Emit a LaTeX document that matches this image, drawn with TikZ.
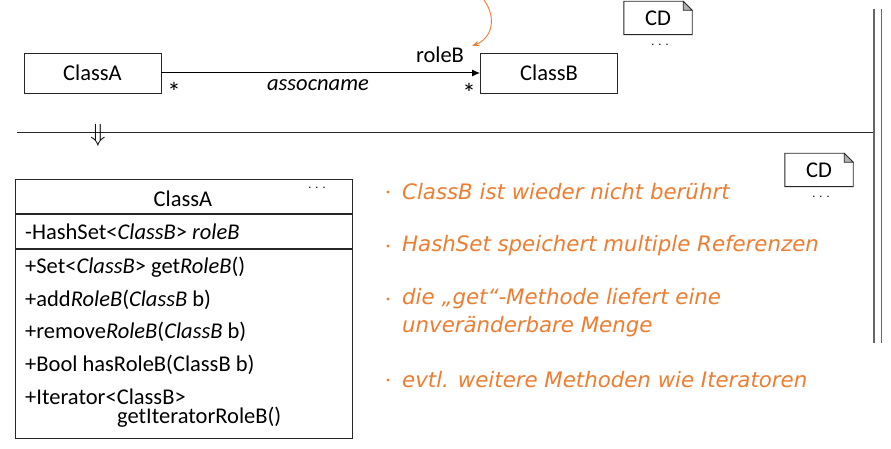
\documentclass[tikz,border=0pt]{standalone}
\usepackage{fontspec}
\setmainfont{Carlito}
\newfontfamily\notefont{DejaVu Sans}
\usetikzlibrary{positioning,arrows.meta,calc}
\definecolor{noteorange}{RGB}{237,125,49}

\begin{document}
\begin{tikzpicture}[x=1pt,y=-1pt,
  cls/.style={draw=black!85,line width=0.9pt,minimum width=137,minimum height=40,font=\fontsize{22.5}{25}\selectfont},
  lbl/.style={inner sep=1pt,font=\fontsize{22.5}{25}\selectfont},
  cdnote/.style={minimum width=68,minimum height=33,inner sep=0pt,font=\fontsize{22.5}{25}\selectfont},
  dotsl/.style={inner sep=0pt,font=\fontsize{12}{12}\selectfont},
  umlrow/.style={draw=black!85,line width=0.9pt,anchor=north west,minimum width=337,inner sep=0pt,font=\fontsize{22.5}{25}\selectfont},
  op/.style={anchor=west,inner sep=0pt,font=\fontsize{22.5}{25}\selectfont},
  bullettxt/.style={anchor=west,align=left,inner sep=0pt,text=noteorange,font=\notefont\itshape\fontsize{21.3}{28}\selectfont}]
  \useasboundingbox (0,0) rectangle (891,449);

  % association above the line
  \node[cls] (classA) at (92.5,73) {ClassA};
  \node[cls] (classB) at (549,73) {ClassB};
  \draw[line width=1pt,-{Latex[length=8pt,width=7pt]}] (classA) -- (classB);
  \node[lbl] (roleB) at (440,55) {roleB};
  \node[lbl,font=\fontsize{27}{27}\selectfont] (starA) at (174,92) {*};
  \node[lbl,font=\fontsize{27}{27}\selectfont] (starB) at (469,93) {*};
  \node[lbl,font=\itshape\fontsize{22.5}{25}\selectfont] (assoc) at (318,85) {assocname};
  \coordinate (curvetop) at (484,0);
  \draw[noteorange,line width=0.9pt,-{Stealth[length=7pt]}] (curvetop) .. controls (497,18) and (492,38) .. ($(roleB.north east)+(7,0)$);

  % CD notes
  \foreach \nm/\px/\py in {cdtop/658/18,cdbot/819/170}{
    \node[cdnote] (\nm) at (\px,\py) {CD};
    \draw[black!85,line width=0.9pt] (\nm.north west) -- ($(\nm.north east)+(-9,0)$) -- ($(\nm.north east)+(0,9)$)
      -- (\nm.south east) -- (\nm.south west) -- cycle;
    \filldraw[black!85,fill=black!30,line width=0.6pt] ($(\nm.north east)+(-9,0)$) -- ($(\nm.north east)+(-9,9)$) -- ($(\nm.north east)+(0,9)$) -- cycle;
    \node[dotsl] (\nm dots) at ($(\nm.south)+(2,10)$) {.\,\,.\,\,.};
  }

  % separators
  \draw[line width=0.9pt,black!85] (17,132) -- (874,132);
  \draw[line width=1.3pt,black!60] (874,9) -- (874,343);
  \draw[line width=0.9pt,black!60] (881,9) -- (881,343);
  \node[inner sep=0pt,font=\fontsize{28}{28}\selectfont] (implies) at (98,135) {$\Downarrow$};

  % class with its generated members
  \node[umlrow,minimum height=34] (ahead) at (15,179) {};
  \node[lbl] (aname) at (183,199) {ClassA};
  \node[dotsl] (adots) at (317,188) {.\,\,.\,\,.};
  \node[umlrow,minimum height=34] (aattr) at (ahead.south west) {};
  \node[op] (attr) at (25,232) {-HashSet<\textit{ClassB}> \textit{roleB}};
  \node[umlrow,minimum height=189] (aops) at (aattr.south west) {};
  \foreach \t [count=\i] in {{+Set<\textit{ClassB}> get\textit{RoleB}()},{+add\textit{RoleB}(\textit{ClassB} b)},
      {+remove\textit{RoleB}(\textit{ClassB} b)},{+Bool hasRoleB(ClassB b)},{+Iterator<ClassB>}}
    \node[op] (op\i) at (25,{267+32.5*(\i-1)}) {\t};
  \node[op] (op6) at (117,417) {getIteratorRoleB()};

  % remarks
  \foreach \y/\t [count=\i] in {192/{ClassB ist wieder nicht berührt},246/{HashSet speichert multiple Referenzen},
      313/{die „get“-Methode liefert eine\\unveränderbare Menge},380/{evtl. weitere Methoden wie Iteratoren}}{
    \node[bullettxt] (item\i) at (402,\y) {\t};
  }
  \foreach \y in {192,246,299,380}
    \fill[noteorange] (388,\y) circle (1.7);
\end{tikzpicture}
\end{document}
